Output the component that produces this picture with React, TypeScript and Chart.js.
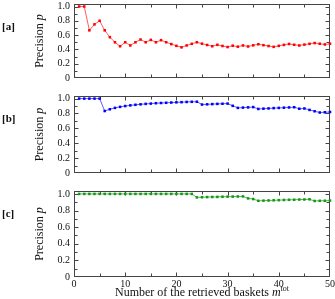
import React, { useEffect, useRef } from 'react';
import { Chart, registerables } from 'chart.js';

Chart.register(...registerables);

const BASKETS = [1, 2, 3, 4, 5, 6, 7, 8, 9, 10, 11, 12, 13, 14, 15, 16, 17, 18, 19, 20, 21, 22, 23, 24, 25, 26, 27, 28, 29, 30, 31, 32, 33, 34, 35, 36, 37, 38, 39, 40, 41, 42, 43, 44, 45, 46, 47, 48, 49, 50];

const PRECISION_A = [1, 1, 0.667, 0.75, 0.8, 0.667, 0.571, 0.5, 0.444, 0.5, 0.455, 0.5, 0.538, 0.5, 0.533, 0.5, 0.529, 0.5, 0.474, 0.45, 0.429, 0.455, 0.478, 0.5, 0.48, 0.462, 0.444, 0.464, 0.448, 0.433, 0.452, 0.438, 0.455, 0.441, 0.457, 0.472, 0.459, 0.447, 0.436, 0.45, 0.463, 0.476, 0.465, 0.455, 0.467, 0.478, 0.489, 0.479, 0.469, 0.48];

const PRECISION_B = [1, 1, 1, 1, 1, 0.833, 0.857, 0.875, 0.889, 0.9, 0.909, 0.917, 0.923, 0.929, 0.933, 0.938, 0.941, 0.944, 0.947, 0.95, 0.952, 0.955, 0.957, 0.958, 0.92, 0.923, 0.926, 0.929, 0.931, 0.933, 0.903, 0.875, 0.879, 0.882, 0.886, 0.861, 0.865, 0.868, 0.872, 0.875, 0.878, 0.881, 0.884, 0.864, 0.867, 0.848, 0.83, 0.813, 0.816, 0.82];

const PRECISION_C = [1, 1, 1, 1, 1, 1, 1, 1, 1, 1, 1, 1, 1, 1, 1, 1, 1, 1, 1, 1, 1, 1, 1, 0.958, 0.96, 0.962, 0.963, 0.964, 0.966, 0.967, 0.968, 0.969, 0.97, 0.946, 0.938, 0.917, 0.919, 0.921, 0.923, 0.925, 0.927, 0.929, 0.93, 0.932, 0.933, 0.935, 0.915, 0.917, 0.918, 0.92];

const Y_TICKS = [0, 0.2, 0.4, 0.6, 0.8, 1];
const X_TICKS = [0, 10, 20, 30, 40, 50];
const PANEL_LABELS = ['[a]', '[b]', '[c]'];
const Y_TITLE = 'Precision ';
const Y_TITLE_VAR = 'p';
const X_TITLE = 'Number of the retrieved baskets ';
const X_TITLE_VAR = 'm';
const X_TITLE_SUP = 'tot';

const W = 335;
const H = 299;
const LEFT = 74;
const RIGHT_PAD = 5;
const X_AXIS_H = 10;
const Y_MAX = 1.035;
const SERIF = '"Liberation Serif", "DejaVu Serif", serif';
const FRAME = '#444';
const TEXT = '#111';

const PANELS = [
  { data: PRECISION_A, marker: '#ff0000', line: 'rgba(255,40,40,0.75)', top: 1, bottom: 88 },
  { data: PRECISION_B, marker: '#0000ff', line: 'rgba(40,40,255,0.75)', top: 96, bottom: 183 },
  { data: PRECISION_C, marker: '#119911', line: 'rgba(30,160,30,0.75)', top: 191, bottom: 277 },
];

function drawMixed(ctx: CanvasRenderingContext2D, parts: { t: string; font: string; dy?: number }[], cx: number, cy: number) {
  let total = 0;
  for (const p of parts) {
    ctx.font = p.font;
    total += ctx.measureText(p.t).width;
  }
  let x = cx - total / 2;
  for (const p of parts) {
    ctx.font = p.font;
    ctx.fillText(p.t, x, cy + (p.dy || 0));
    x += ctx.measureText(p.t).width;
  }
}

function makePlugin(index: number, isLast: boolean) {
  return {
    id: 'frame' + index,
    beforeDatasetsDraw(chart: any) {
      const { ctx, chartArea: a, scales } = chart;
      const xs = scales.x;
      const ys = scales.y;
      const L = Math.round(a.left) + 0.5;
      const R = Math.round(a.right) - 0.5;
      const T = Math.round(a.top) + 0.5;
      const B = Math.round(a.bottom) - 0.5;
      ctx.save();
      ctx.strokeStyle = FRAME;
      ctx.lineWidth = 1;
      ctx.strokeRect(L, T, R - L, B - T);
      ctx.beginPath();
      for (let v = 5; v < 50; v += 5) {
        const px = Math.round(xs.getPixelForValue(v)) + 0.5;
        const len = v % 10 === 0 ? 4 : 3;
        ctx.moveTo(px, B);
        ctx.lineTo(px, B - len);
        ctx.moveTo(px, T);
        ctx.lineTo(px, T + len);
      }
      for (let k = 1; k <= 10; k++) {
        const v = k / 10;
        const py = Math.round(ys.getPixelForValue(v)) + 0.5;
        const len = k % 2 === 0 ? 4 : 3;
        ctx.moveTo(L, py);
        ctx.lineTo(L + len, py);
        ctx.moveTo(R, py);
        ctx.lineTo(R - len, py);
      }
      ctx.stroke();
      ctx.restore();
    },
    afterDraw(chart: any) {
      const { ctx, chartArea: a } = chart;
      ctx.save();
      ctx.fillStyle = TEXT;
      ctx.textBaseline = 'middle';
      ctx.textAlign = 'left';
      ctx.font = 'bold 11px ' + SERIF;
      ctx.fillText(PANEL_LABELS[index], 2, a.top + 23);
      // y title
      ctx.save();
      ctx.translate(40, (a.top + a.bottom) / 2);
      ctx.rotate(-Math.PI / 2);
      ctx.textBaseline = 'middle';
      drawMixed(ctx, [
        { t: Y_TITLE, font: '12px ' + SERIF },
        { t: Y_TITLE_VAR, font: 'italic 12px ' + SERIF },
      ], 0, 0);
      ctx.restore();
      if (isLast) {
        ctx.textBaseline = 'alphabetic';
        drawMixed(ctx, [
          { t: X_TITLE, font: '12px ' + SERIF },
          { t: X_TITLE_VAR, font: 'italic 12px ' + SERIF },
          { t: X_TITLE_SUP, font: '8px ' + SERIF, dy: -5 },
        ], (a.left + a.right) / 2, 296);
      }
      ctx.restore();
    },
  };
}

function Panel({ index }: { index: number }) {
  const ref = useRef<HTMLCanvasElement>(null);
  useEffect(() => {
    const p = PANELS[index];
    const isLast = index === PANELS.length - 1;
    const chart = new Chart(ref.current as HTMLCanvasElement, {
      type: 'line',
      data: {
        labels: BASKETS,
        datasets: [
          {
            data: BASKETS.map((x, i) => ({ x, y: p.data[i] })),
            borderColor: p.line,
            borderWidth: 1,
            backgroundColor: p.marker,
            pointBackgroundColor: p.marker,
            pointBorderWidth: 0,
            pointStyle: 'rect',
            pointRadius: 1.8,
            tension: 0,
            clip: false as any,
          },
        ],
      },
      options: {
        responsive: false,
        animation: false,
        events: [],
        layout: {
          padding: {
            left: 0,
            right: RIGHT_PAD,
            top: p.top,
            bottom: H - p.bottom - (isLast ? X_AXIS_H : 0),
          },
        },
        plugins: { legend: { display: false }, tooltip: { enabled: false } },
        scales: {
          x: {
            type: 'linear',
            min: 0,
            max: 50,
            display: isLast,
            grid: { display: false, drawTicks: false },
            border: { display: false },
            ticks: { font: { family: SERIF, size: 10 }, color: TEXT, padding: 1, maxRotation: 0, autoSkip: false },
            afterBuildTicks: (s: any) => {
              s.ticks = X_TICKS.map((v) => ({ value: v }));
            },
            afterFit: (s: any) => {
              s.height = X_AXIS_H;
              s.paddingLeft = 0;
              s.paddingRight = 0;
            },
          },
          y: {
            type: 'linear',
            min: 0,
            max: Y_MAX,
            grid: { display: false, drawTicks: false },
            border: { display: false },
            ticks: { font: { family: SERIF, size: 10 }, color: TEXT, padding: 4, autoSkip: false },
            afterBuildTicks: (s: any) => {
              s.ticks = Y_TICKS.map((v) => ({ value: v }));
            },
            afterFit: (s: any) => {
              s.width = LEFT;
              s.paddingTop = 0;
              s.paddingBottom = 0;
            },
          },
        },
      },
      plugins: [makePlugin(index, isLast)],
    } as any);
    return () => chart.destroy();
  }, [index]);
  return (
    <canvas
      ref={ref}
      width={W}
      height={H}
      style={{ position: 'absolute', left: 0, top: 0, width: W, height: H }}
    />
  );
}

export default function App() {
  return (
    <div style={{ position: 'fixed', left: 0, top: 0, width: W, height: H, background: '#fff', overflow: 'hidden' }}>
      {PANELS.map((_, i) => (
        <Panel key={i} index={i} />
      ))}
    </div>
  );
}
